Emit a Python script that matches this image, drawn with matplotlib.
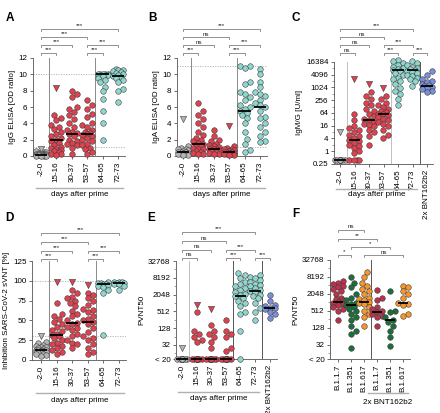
import numpy as np
import matplotlib
matplotlib.use('Agg')
import matplotlib.pyplot as plt
from matplotlib import transforms
from matplotlib.lines import Line2D
from matplotlib.ticker import FixedLocator, NullFormatter

plt.rcParams['font.family'] = ['Liberation Sans', 'DejaVu Sans']

# ---------------- data ----------------
days = ['-2-0', '15-16', '30-37', '53-57', '64-65', '72-73']
days_bnt = days + ['2x BNT162b2']
variants = ['B.1.1.7', 'B.1.351', 'B.1.617', 'B.1.1.7', 'B.1.351', 'B.1.617']

# A: IgG ELISA OD ratio
igg_circles = [
    [0.6, 0.5, 0.45, 0.4, 0.35, 0.3, 0.3, 0.25, 0.2, 0.2, 0.15, 0.15, 0.1, 0.1, 0.1, 0.05, 0.05, 0.0, 0.0],
    [5.0, 4.7, 4.4, 3.8, 3.5, 3.3, 3.0, 2.7, 2.5, 2.2, 2.0, 1.8, 1.6, 1.3, 1.1, 1.0, 0.9, 0.7, 0.6, 0.5, 0.3, 0.2, 0.1],
    [8.0, 7.6, 7.2, 6.0, 5.8, 5.4, 5.0, 4.5, 4.1, 3.6, 3.2, 3.0, 2.8, 2.7, 2.5, 2.0, 1.8, 1.6, 1.5, 1.3, 1.0, 0.3],
    [6.8, 6.3, 5.8, 5.2, 4.8, 4.0, 3.8, 3.5, 3.2, 3.0, 2.8, 2.7, 2.6, 2.5, 2.2, 2.0, 1.8, 1.5, 1.3, 1.0, 0.8, 0.5, 0.2],
    [10.0, 10.0, 10.0, 10.0, 10.0, 9.9, 9.8, 9.6, 9.3, 9.0, 8.5, 7.9, 7.0, 5.5, 4.0, 1.9],
    [10.6, 10.5, 10.5, 10.4, 10.3, 10.2, 10.0, 9.9, 9.8, 9.7, 9.6, 9.3, 9.0, 8.2, 7.9, 6.6],
]
igg_triangles = [[0.8], [8.3], [], [], [], []]
igg_medians = [0.15, 2.0, 2.75, 2.7, 10.0, 9.75]

# B: IgA ELISA OD ratio
iga_circles = [
    [1.2, 1.0, 0.9, 0.8, 0.7, 0.6, 0.55, 0.5, 0.45, 0.4, 0.35, 0.3, 0.25, 0.2, 0.15, 0.1],
    [6.5, 5.5, 5.0, 4.5, 4.0, 3.5, 3.0, 2.6, 2.2, 2.0, 1.8, 1.6, 1.5, 1.4, 1.2, 1.0, 0.9, 0.8, 0.6, 0.5, 0.4, 0.3, 0.2],
    [3.2, 2.4, 2.0, 1.8, 1.5, 1.3, 1.2, 1.1, 1.0, 0.9, 0.8, 0.8, 0.7, 0.6, 0.5, 0.4, 0.3, 0.2],
    [1.2, 1.0, 0.9, 0.8, 0.7, 0.6, 0.55, 0.5, 0.45, 0.4, 0.35, 0.3, 0.25, 0.2, 0.15, 0.1],
    [11.0, 11.0, 10.8, 9.1, 8.8, 7.8, 7.6, 7.2, 6.8, 6.3, 6.0, 5.8, 5.5, 5.3, 5.0, 4.6, 4.0, 3.0, 2.1, 1.5, 0.7, 0.5],
    [10.7, 10.0, 9.1, 8.4, 7.8, 7.6, 7.3, 6.9, 6.5, 6.2, 6.0, 5.5, 4.8, 4.6, 4.0, 3.5, 3.0, 2.5, 1.8, 1.7],
]
iga_triangles = [[4.5], [], [], [3.7], [], []]
iga_medians = [0.5, 1.45, 0.8, 0.5, 5.5, 6.05]

# C: IgM/G U/ml
igmg_circles = [
    [0.4] * 8,
    [60, 30, 16, 12, 10, 8, 6, 5, 4, 3.5, 3, 2.5, 2, 1.8, 1.5, 1.0, 0.8, 0.4, 0.4, 0.4, 0.4],
    [600, 400, 300, 200, 150, 100, 80, 60, 45, 35, 30, 25, 20, 18, 15, 10, 8, 5, 2],
    [400, 300, 200, 150, 120, 100, 80, 70, 60, 55, 50, 40, 35, 30, 25, 20, 15, 10, 6, 4],
    [20000, 18000, 15000, 12000, 10000, 9000, 8000, 7000, 6000, 5000, 4000, 3000, 2500, 2000, 1500, 1000, 700, 500, 300, 150],
    [18000, 15000, 12000, 10000, 9000, 8000, 7000, 6500, 5500, 5000, 4000, 3500, 3000, 2500, 2000, 1200],
    [6000, 4000, 2500, 2000, 1800, 1500, 1300, 1200, 1100, 1000, 900, 700, 600],
]
igmg_triangles = [[8], [2500], [1500], [1000], [], [], []]
igmg_medians = [0.4, 3.5, 30, 60, 7000, 7000, 1200]

# D: sVNT inhibition %
svnt_circles = [
    [23, 21, 19, 18, 17, 16, 15, 14, 13, 13, 12, 12, 11, 11, 10, 10, 9, 9, 8, 7, 6, 5],
    [72, 58, 55, 52, 48, 45, 42, 38, 36, 33, 32, 30, 28, 25, 22, 20, 18, 15, 12, 10, 8],
    [88, 85, 80, 78, 75, 72, 68, 62, 58, 55, 50, 47, 45, 42, 40, 38, 33, 30, 25, 22, 20, 15],
    [85, 82, 78, 75, 70, 65, 63, 60, 55, 52, 50, 48, 45, 40, 35, 30, 28, 25, 20, 15, 10, 8],
    [98, 97, 97, 96, 96, 95, 95, 94, 92, 89, 85, 31],
    [99, 98, 98, 97, 97, 96, 96, 93, 89],
]
svnt_triangles = [[30], [98], [98], [95], [], []]
svnt_medians = [12, 31, 47, 48, 96, 97]

# E: PVNT50 (values < 20 shown at 10)
pvnt_circles = [
    [10] * 14,
    [500, 100, 80, 60, 50, 40] + [10] * 12,
    [160, 100, 80, 60, 40, 25] + [10] * 12,
    [250, 100, 80, 60, 25, 20] + [10] * 12,
    [12000, 10000, 8000, 6000, 5000, 4000, 3500, 3000, 2500, 2200, 2000, 1800, 1500, 1200, 1000, 800, 500, 400, 100, 10],
    [10000, 9000, 8000, 7000, 6000, 5000, 4500, 4000, 3500, 3000, 2800, 2500, 2000, 1800, 1500, 1000, 700, 500, 250],
    [2000, 1200, 900, 800, 700, 650, 600, 500, 400, 300],
]
pvnt_triangles = [[25], [900], [600], [], [], [], []]
pvnt_medians = [10, 10, 10, 10, 1800, 2800, 700]

# F: PVNT50 per variant
var_circles = [
    [6000, 5000, 4500, 4000, 3500, 3000, 2500, 2000, 1500, 1300, 1200, 1100, 1000, 900, 800, 700, 600, 500, 250],
    [8000, 5000, 3500, 2000, 1500, 1200, 1000, 900, 800, 700, 600, 500, 400, 300, 250, 150, 100, 80, 25],
    [12000, 8000, 5000, 4000, 3000, 2500, 2000, 1500, 1300, 1200, 1100, 1000, 900, 700, 500, 400, 300, 150],
    [2800, 1500, 1200, 700, 600, 500, 450, 400, 350, 300, 150],
    [2500, 500, 450, 300, 250, 200, 150, 100, 60, 30],
    [4000, 3500, 2500, 2000, 1500, 1000, 900, 800, 400, 350],
]
var_triangles = [[], [], [], [], [], []]
var_medians = [1100, 800, 1100, 450, 250, 1000]

# ---------------- styling ----------------
W, H = 440, 413
GREY = '#b5b5b5'
RED = '#e0414f'
CYAN = '#8fd6cf'
BLUE = '#7a8fd9'
DRED = '#b8334b'
GREEN = '#1c6e3b'
ORANGE = '#f7962a'
EDGE = '#3d3d3d'
AX = '#555555'
FS = 5.8

fig = plt.figure(figsize=(W / 100, H / 100), dpi=100)


def swarm(ax, xc, vals, d=5.0, maxw=7.0):
    vals = np.asarray(vals, dtype=float)
    if len(vals) == 0:
        return np.array([])
    pts = ax.transData.transform(np.column_stack([np.full(len(vals), xc), vals]))
    ys = pts[:, 1]
    x0 = pts[0, 0]
    step = d * 0.5
    cands = [0.0]
    k = 1
    while k * step <= maxw + 1e-9:
        cands += [k * step, -k * step]
        k += 1
    placed = []
    xs = np.zeros(len(vals))
    for idx in np.argsort(ys):
        y = ys[idx]
        best, bestd = 0.0, -1
        for c in cands:
            md = min((np.hypot(c - px, y - py) for px, py in placed), default=1e9)
            if md >= d:
                best = c
                break
            if md > bestd:
                bestd, best = md, c
        placed.append((best, y))
        xs[idx] = x0 + best
    back = ax.transData.inverted().transform(np.column_stack([xs, ys]))
    return back[:, 0]


def panel(x0, c0, sp, x1, ytop, ybot, cats, circles, tris, meds, colors, ylim,
          yticks, yticklabels, ylabel, log=False, hlines=(), vlines=(),
          brackets=(), minor=None):
    ax = fig.add_axes([x0 / W, 1 - ybot / H, (x1 - x0) / W, (ybot - ytop) / H])
    n = len(cats)
    ax.set_xlim(-(c0 - x0) / sp, (x1 - c0) / sp)
    if log:
        ax.set_yscale('log', base=2)
    ax.set_ylim(*ylim)
    ax.set_yticks(yticks)
    ax.set_yticklabels(yticklabels)
    if minor is not None:
        ax.yaxis.set_minor_locator(FixedLocator(minor))
        ax.yaxis.set_minor_formatter(NullFormatter())
    else:
        ax.yaxis.set_minor_locator(FixedLocator([]))
    ax.set_xticks(range(n))
    ax.set_xticklabels(cats, rotation=90, fontsize=FS)
    ax.tick_params(axis='y', labelsize=FS, length=2.5, width=0.6, color=AX, pad=1.5)
    ax.tick_params(axis='y', which='minor', length=1.5, width=0.4, color=AX)
    ax.tick_params(axis='x', length=2, width=0.6, color=AX, pad=2)
    for s in ['top', 'right']:
        ax.spines[s].set_visible(False)
    for s in ['left', 'bottom']:
        ax.spines[s].set_linewidth(0.6)
        ax.spines[s].set_color(AX)
    ax.set_ylabel(ylabel, fontsize=FS, labelpad=2)
    for h in hlines:
        ax.axhline(h, color='#b0b0b0', lw=0.6, ls=(0, (1.5, 1.5)), zorder=0)
    for v, col in vlines:
        ax.axvline(v, color=col, lw=0.7, zorder=0)
    for i in range(n):
        allv = list(circles[i]) + list(tris[i])
        xs = swarm(ax, i, allv)
        nc = len(circles[i])
        if nc:
            ax.scatter(xs[:nc], circles[i], s=16, c=colors[i], edgecolors=EDGE,
                       linewidths=0.4, zorder=3, clip_on=False)
        if len(tris[i]):
            ax.scatter(xs[nc:], tris[i], s=20, marker='v', c=colors[i],
                       edgecolors=EDGE, linewidths=0.4, zorder=3, clip_on=False)
        ax.plot([i - 0.4, i + 0.4], [meds[i], meds[i]], color='black', lw=1.3,
                zorder=4, solid_capstyle='butt', clip_on=False)
    tr = transforms.blended_transform_factory(ax.transData, fig.transFigure)
    for i, j, lab, ypx in brackets:
        y = 1 - ypx / H
        dy = 2 / H
        ax.add_line(Line2D([i, i, j, j], [y - dy, y, y, y - dy], transform=tr,
                           color='#808080', lw=0.6, clip_on=False))
        ax.text((i + j) / 2, y + 0.5 / H, lab, transform=tr, fontsize=4.5,
                ha='center', va='bottom', color='#222222', clip_on=False)
    return ax, tr


def group_line(ax, tr, i, j, ypx, text, tpx):
    ax.add_line(Line2D([i, j], [1 - ypx / H, 1 - ypx / H], transform=tr,
                       color='#b0b0b0', lw=1.0, clip_on=False))
    ax.text((i + j) / 2, 1 - tpx / H, text, transform=tr, fontsize=FS,
            ha='center', va='center', clip_on=False)


def letter(x, y, t):
    fig.text(x / W, 1 - y / H, t, fontsize=8.5, fontweight='bold', ha='left', va='center')


top_br = [(0, 1, '***', 53), (0, 2, '***', 45), (0, 3, '***', 37), (0, 5, '***', 29),
          (3, 4, '***', 53), (3, 5, '***', 45)]
sixcol = [GREY, RED, RED, RED, CYAN, CYAN]
sevcol = sixcol + [BLUE]

# A
ax, tr = panel(33, 41, 15.4, 125, 58, 156, days, igg_circles, igg_triangles, igg_medians,
               sixcol, (0, 12), [0, 2, 4, 6, 8, 10, 12], ['0', '2', '4', '6', '8', '10', '12'],
               'IgG ELISA [OD ratio]', hlines=(10, 1.1),
               vlines=((0.5, '#8a8a8a'), (3.5, '#8a8a8a')), brackets=top_br)
group_line(ax, tr, -0.3, 5.3, 188, 'days after prime', 194)
letter(6, 18, 'A')

# B
br_b = [(0, 1, '***', 53), (0, 2, 'ns', 45), (0, 3, 'ns', 37), (0, 5, '***', 29),
        (3, 4, '***', 53), (3, 5, '***', 45)]
ax, tr = panel(177, 183, 15.4, 267, 58, 156, days, iga_circles, iga_triangles, iga_medians,
               sixcol, (0, 12), [0, 2, 4, 6, 8, 10, 12], ['0', '2', '4', '6', '8', '10', '12'],
               'IgA ELISA [OD ratio]', hlines=(11, 1.1),
               vlines=((0.5, '#8a8a8a'), (3.5, '#8a8a8a')), brackets=br_b)
group_line(ax, tr, -0.3, 5.3, 188, 'days after prime', 194)
letter(148, 18, 'B')

# C
br_c = [(0, 1, 'ns', 53), (0, 2, 'ns', 45), (0, 3, 'ns', 37), (0, 5, '***', 29),
        (3, 4, '***', 53), (3, 5, '***', 45), (5, 6, '***', 53)]
c_ticks = [0.25, 1, 4, 16, 64, 256, 1024, 4096, 16384]
ax, tr = panel(334, 340, 14.5, 433, 62, 164, days_bnt, igmg_circles, igmg_triangles,
               igmg_medians, sevcol, (0.25, 16384), c_ticks,
               ['0.25', '1', '4', '16', '64', '256', '1024', '4096', '16384'],
               'IgM/G [U/ml]', log=True,
               vlines=((0.5, '#c0c0c0'), (3.5, '#c0c0c0'), (5.5, '#555555')),
               brackets=br_c, minor=[2.0 ** k for k in range(-1, 14, 2)])
group_line(ax, tr, -0.3, 5.3, 189, 'days after prime', 194)
letter(291, 18, 'C')

# D
ax, tr = panel(32, 41, 15.6, 126, 261, 360, days, svnt_circles, svnt_triangles, svnt_medians,
               sixcol, (0, 125), [0, 25, 50, 75, 100, 125],
               ['0', '25', '50', '75', '100', '125'],
               'Inhibition SARS-CoV-2 sVNT [%]', hlines=(100, 30),
               vlines=((0.5, '#8a8a8a'), (3.5, '#8a8a8a')),
               brackets=[(a, b, l, y + 206) for a, b, l, y in
                         [(0, 1, '***', 53), (0, 2, '***', 44.5), (0, 3, '***', 36), (0, 5, '***', 27),
                          (3, 4, '***', 53), (3, 5, '***', 44.5)]])
group_line(ax, tr, -0.3, 5.3, 393, 'days after prime', 400)
letter(5, 218, 'D')

# E
pv_ticks = [10, 32, 128, 512, 2048, 8192, 32768]
pv_labels = ['< 20', '32', '128', '512', '2048', '8192', '32768']
br_e = [(0, 1, 'ns', 258), (0, 2, 'ns', 249.5), (0, 3, 'ns', 241), (0, 5, '***', 232),
        (3, 4, '***', 258), (3, 5, '***', 249.5), (5, 6, '***', 258)]
ax, tr = panel(176, 182, 14.6, 277, 261, 359, days_bnt, pvnt_circles, pvnt_triangles,
               pvnt_medians, sevcol, (10, 32768), pv_ticks, pv_labels, 'PVNT50', log=True,
               vlines=((0.5, '#c0c0c0'), (3.5, '#555555'), (5.5, '#555555')),
               brackets=br_e, minor=[2.0 ** k for k in range(4, 15, 1)])
group_line(ax, tr, -0.3, 5.3, 392, 'days after prime', 399)
letter(147, 218, 'E')

# F
br_f = [(0, 2, 'ns', 230), (0, 3, '**', 239), (1, 4, '*', 247), (0, 1, '*', 255),
        (2, 5, 'ns', 255)]
fcol = [DRED, GREEN, ORANGE, DRED, GREEN, ORANGE]
ax, tr = panel(330, 338, 13.0, 410, 260, 359, variants, var_circles, var_triangles,
               var_medians, fcol, (10, 32768), pv_ticks, pv_labels, 'PVNT50', log=True,
               vlines=((2.5, '#555555'),), brackets=br_f,
               minor=[2.0 ** k for k in range(4, 15, 1)])
group_line(ax, tr, 2.3, 5.4, 393, '2x BNT162b2', 402)
letter(292, 214, 'F')

fig.savefig('out.png', dpi=100)
